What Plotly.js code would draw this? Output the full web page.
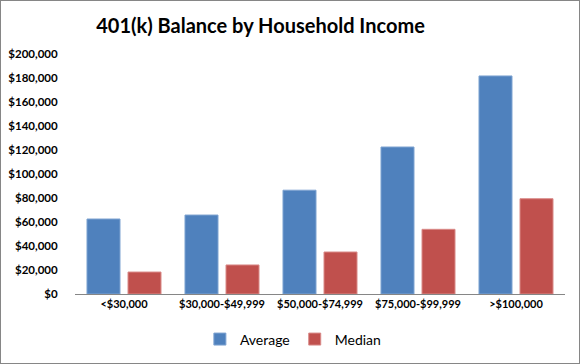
<!DOCTYPE html>
<html><head><meta charset="utf-8">
<script src="https://cdn.plot.ly/plotly-3.0.1.min.js"></script>
<style>
html,body{margin:0;padding:0;background:#fff;}
#chart{width:578px;height:362px;border:1px solid #868686;}
</style></head>
<body><div id="chart"></div>
<script>
var categories = ["<$30,000", "$30,000-$49,999", "$50,000-$74,999", "$75,000-$99,999", ">$100,000"];
var averageValues = [62500, 65800, 86500, 122500, 181700];
var medianValues = [18300, 24200, 35000, 53900, 79400];
var yTickValues = [0, 20000, 40000, 60000, 80000, 100000, 120000, 140000, 160000, 180000, 200000];
var yTickLabels = ["$0", "$20,000", "$40,000", "$60,000", "$80,000", "$100,000", "$120,000", "$140,000", "$160,000", "$180,000", "$200,000"];

var FONT = "Lato, 'Open Sans', sans-serif";
var data = [
  {type: 'bar', name: 'Average', x: categories, y: averageValues,
   marker: {color: '#4F81BD', line: {color: '#7EA3D1', width: 1}}},
  {type: 'bar', name: 'Median', x: categories, y: medianValues,
   marker: {color: '#C0504D', line: {color: '#D98A88', width: 1}}}
];
var layout = {
  width: 578, height: 362,
  margin: {l: 74, r: 14, t: 53, b: 69},
  paper_bgcolor: '#fff', plot_bgcolor: '#fff',
  font: {family: FONT, color: '#000'},
  title: {text: '401(k) Balance by Household Income', x: 0.449, xanchor: 'center', xref: 'container',
          y: 0.93, yanchor: 'middle', yref: 'container',
          font: {family: FONT, size: 20, weight: 700, color: '#000'}},
  barmode: 'group', bargap: 0.163, bargroupgap: 0.195,
  showlegend: true,
  legend: {orientation: 'h', x: 0.505, xref: 'container', xanchor: 'center', y: 0.065, yref: 'container', yanchor: 'middle',
           font: {family: FONT, size: 14, color: '#000'}, itemwidth: 30, traceorder: 'normal'},
  xaxis: {showline: true, linecolor: '#868686', linewidth: 1, ticks: '', showgrid: false, zeroline: false,
          tickfont: {family: FONT, size: 11, weight: 700, color: '#000'}, fixedrange: true},
  yaxis: {range: [0, 200000], tickvals: yTickValues, ticktext: yTickLabels, showline: false, showgrid: false,
          zeroline: false, ticks: 'outside', ticklen: 14, tickcolor: 'rgba(0,0,0,0)',
          tickfont: {family: FONT, size: 11.5, weight: 700, color: '#000'}, fixedrange: true}
};
Plotly.newPlot('chart', data, layout, {displayModeBar: false, staticPlot: true});
</script></body></html>
